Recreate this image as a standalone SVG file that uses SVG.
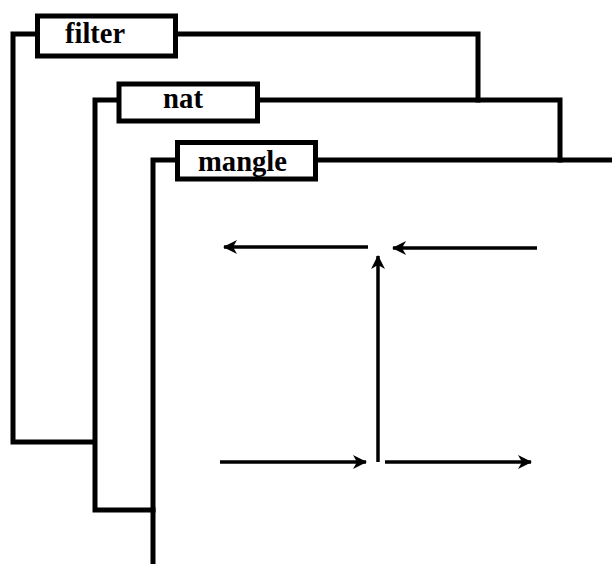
<svg xmlns="http://www.w3.org/2000/svg" width="612" height="564" viewBox="0 0 612 564">
<style>
.frame{fill:none;stroke:#000;stroke-width:5;stroke-linejoin:miter;stroke-linecap:square}
.box{fill:#fff;stroke:#000;stroke-width:5}
.lbl{font-family:"Liberation Serif","Times New Roman",serif;font-weight:bold;font-size:29px;fill:#000}
.arr{fill:none;stroke:#000;stroke-width:3.5;marker-end:url(#ah)}
</style>
<defs>
<marker id="ah" markerWidth="15" markerHeight="14" refX="13" refY="7" orient="auto" markerUnits="userSpaceOnUse">
<path d="M0,0 L14,7 L0,14 L4,7 Z" fill="#000"/>
</marker>
</defs>
<rect width="612" height="564" fill="#fff"/>
<g id="connectors">
<polyline class="frame" points="37,34 13,34 13,442 94,442"/>
<polyline class="frame" points="175,34 478,34 478,100"/>
<polyline class="frame" points="119,100 95,100 95,510 153,510"/>
<polyline class="frame" points="257,100 560,100 560,160"/>
<polyline class="frame" points="177,160 153,160 153,562"/>
<line class="frame" x1="315" y1="160" x2="614" y2="160"/>
<line class="arr" x1="368" y1="247" x2="224" y2="247"/>
<line class="arr" x1="537" y1="248" x2="393" y2="248"/>
<line class="arr" x1="378" y1="462" x2="378" y2="256"/>
<line class="arr" x1="220" y1="462" x2="366" y2="462"/>
<line class="arr" x1="385" y1="462" x2="531" y2="462"/>
</g>
<g id="filter">
<rect class="box" x="37.5" y="16" width="138" height="40"/>
<text class="lbl" x="65" y="43" textLength="60" lengthAdjust="spacingAndGlyphs">filter</text>
</g>
<g id="nat">
<rect class="box" x="119" y="84" width="138.5" height="37"/>
<text class="lbl" x="163" y="108" textLength="40" lengthAdjust="spacingAndGlyphs">nat</text>
</g>
<g id="mangle">
<rect class="box" x="177.5" y="142.5" width="138" height="36.5"/>
<text class="lbl" x="198" y="171" textLength="89" lengthAdjust="spacingAndGlyphs">mangle</text>
</g>
</svg>
